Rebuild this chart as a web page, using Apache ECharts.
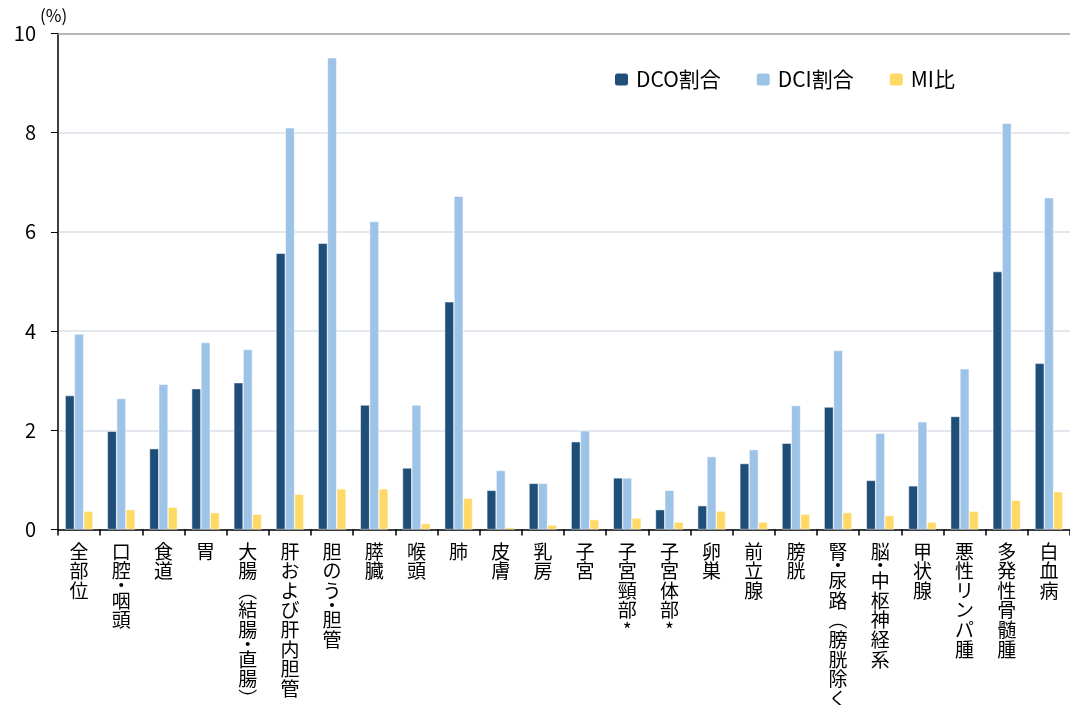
<!DOCTYPE html>
<html><head><meta charset="utf-8">
<script src="https://cdn.jsdelivr.net/npm/echarts@6/dist/echarts.min.js"></script>
<style>html,body{margin:0;padding:0;background:#fff}#c{width:1070px;height:705px}</style>
</head><body><div id="c"></div>
<script>
const categories = ['全部位','口腔・咽頭','食道','胃','大腸︵結腸・直腸︶','肝および肝内胆管','胆のう・胆管','膵臓','喉頭','肺','皮膚','乳房','子宮','子宮頸部*','子宮体部*','卵巣','前立腺','膀胱','腎・尿路︵膀胱除く︶','脳・中枢神経系','甲状腺','悪性リンパ腫','多発性骨髄腫','白血病'];
const dco = [2.70,1.98,1.63,2.84,2.96,5.57,5.77,2.51,1.24,4.59,0.79,0.93,1.77,1.04,0.40,0.48,1.33,1.74,2.47,0.99,0.88,2.28,5.20,3.35];
const dci = [3.94,2.64,2.93,3.77,3.63,8.10,9.51,6.21,2.51,6.72,1.19,0.93,1.99,1.04,0.79,1.47,1.61,2.50,3.61,1.94,2.17,3.24,8.19,6.69];
const mi  = [0.37,0.40,0.45,0.34,0.31,0.71,0.82,0.82,0.12,0.63,0.04,0.09,0.20,0.23,0.15,0.37,0.15,0.31,0.34,0.28,0.15,0.37,0.59,0.76];
const yTicks = [0,2,4,6,8,10];

const font = '"Noto Sans CJK JP","Noto Sans",sans-serif';
const chart = echarts.init(document.getElementById('c'));
chart.setOption({
  animation:false,
  textStyle:{fontFamily:font},
  grid:{left:58,right:0,top:33.5,bottom:175.5,containLabel:false,outerBoundsMode:'none'},
  legend:{
    left:613, top:69, padding:0, itemWidth:15, itemHeight:14, itemGap:34,
    textStyle:{fontSize:21,color:'#000',fontFamily:font,padding:[0,0,0,2]},
    data:['DCO割合','DCI割合','MI比']
  },
  xAxis:[{
    type:'category', data:categories,
    axisLine:{lineStyle:{color:'#000',width:1.5}},
    axisTick:{show:true,length:6,lineStyle:{color:'#000',width:1.5}},
    axisLabel:{
      interval:0, margin:12, fontSize:19, lineHeight:19.6, color:'#000',
      verticalAlign:'top',
      formatter:v=>Array.from(v).map(c=>c==='・'?'{d|・}':'{n|'+c+'}').join('\n'),
      rich:{
        n:{fontSize:19,lineHeight:19.6,color:'#000',fontFamily:font},
        d:{fontSize:19,lineHeight:10,color:'#000',fontFamily:font}
      }
    }
  },{
    type:'category', data:categories, position:'top',
    axisLine:{lineStyle:{color:'#a6a6a6',width:1.5}},
    axisTick:{show:false}, axisLabel:{show:false}
  }],
  yAxis:{
    type:'value', min:yTicks[0], max:yTicks[yTicks.length-1], interval:2,
    name:'(%)', nameLocation:'end', nameGap:6,
    nameTextStyle:{fontSize:17,color:'#000',align:'left',padding:[0,0,0,-18]},
    axisLine:{show:true,lineStyle:{color:'#000',width:1.5}},
    axisTick:{show:true,length:7,lineStyle:{color:'#000'}},
    axisLabel:{fontSize:20,color:'#000',margin:22},
    splitLine:{lineStyle:{color:'#e3e8ef',width:2}}
  },
  series:[
    {name:'DCO割合',type:'bar',data:dco,barGap:'0%',barCategoryGap:'34%',itemStyle:{color:'#1F4E79',borderColor:'#fff',borderWidth:0.5}},
    {name:'DCI割合',type:'bar',data:dci,barGap:'0%',barCategoryGap:'34%',itemStyle:{color:'#9DC3E6',borderColor:'#fff',borderWidth:0.5}},
    {name:'MI比',type:'bar',data:mi,barGap:'0%',barCategoryGap:'34%',itemStyle:{color:'#FFD966',borderColor:'#fff',borderWidth:0.5}}
  ]
});
</script></body></html>
